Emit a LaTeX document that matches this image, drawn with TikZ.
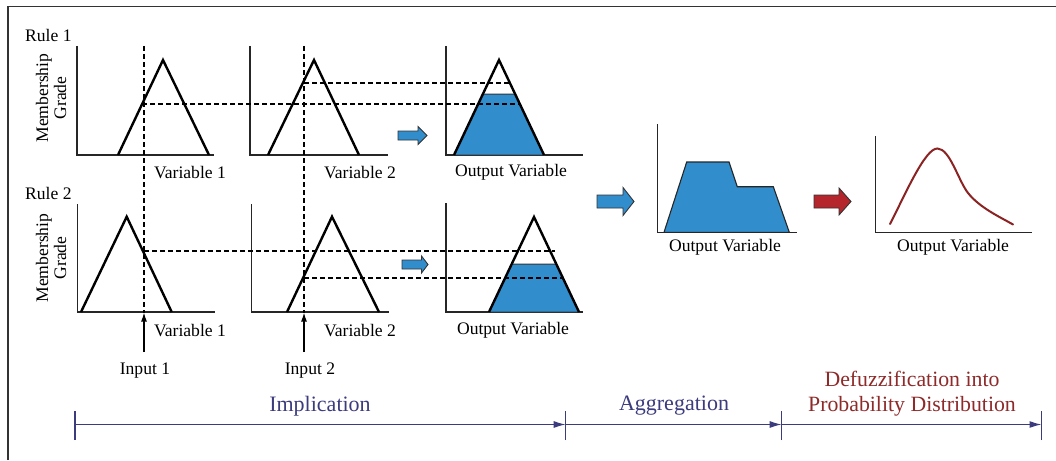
\documentclass[tikz,border=0pt]{standalone}
\usepackage{fontspec}
\setmainfont{Liberation Serif}
\usetikzlibrary{arrows.meta}
\definecolor{fuzzblue}{HTML}{318DCC}
\definecolor{navy}{HTML}{3B3B7E}
\definecolor{defuzzred}{HTML}{8E2A2A}
\definecolor{arrowred}{HTML}{B4262C}
\definecolor{curvered}{HTML}{8B2323}
% fat block arrow: x-start, x-head, x-tip, y-mid, shaft half height, head half height, fill
\newcommand\fatarrow[7]{%
  \draw[fill=#7, draw=black!80, line width=0.9pt, line join=miter]
    (#1,#4-#5) -- (#2,#4-#5) -- (#2,#4-#6) -- (#3,#4) -- (#2,#4+#6)
    -- (#2,#4+#5) -- (#1,#4+#5) -- cycle;}
\begin{document}
\begin{tikzpicture}[x=1pt,y=-1pt,
  axis/.style={line width=1.4pt, draw=black!85},
  memb/.style={line width=2.4pt, line join=miter},
  guide/.style={line width=1.1pt, dash pattern=on 5pt off 3pt},
  cut/.style={fill=fuzzblue, draw=black!80, line width=1pt},
  lbl/.style={font=\fontsize{17.6}{18}\selectfont, inner sep=0pt},
  phase/.style={font=\fontsize{22}{25}\selectfont, inner sep=0pt, text=navy},
  timeline/.style={line width=1.3pt, draw=navy},
  tick/.style={line width=1.3pt, draw=navy},
  inarrow/.style={line width=1.3pt, -{Latex[length=9pt,width=6pt]}},
]
\useasboundingbox (0,0) rectangle (1056,460);
\fill[white] (0,0) rectangle (1056,460);

% outer frame
\draw[line width=1.8pt, black!80] (8,460) -- (8,6.5) -- (1056,6.5);

% ---------------- Rule 1 ----------------
\node[lbl, anchor=west] (rule1) at (25,35) {Rule 1};
\node[lbl, rotate=90, align=center] (mg1) at (51,98) {Membership\\Grade};

% variable 1
\draw[axis] (77,46) -- (77,155) -- (214,155);
\draw[memb] (118,155) -- (163,60) -- (209,155);
\node[lbl] (v11) at (190,173) {Variable 1};
% variable 2
\draw[axis] (250,46) -- (250,155) -- (388,155);
\draw[memb] (268,155) -- (314,60) -- (359,155);
\node[lbl] (v12) at (360,173) {Variable 2};
% implied output
\draw[axis] (446,46) -- (446,155) -- (583,155);
\draw[cut] (454,155) -- (482.9,94) -- (515.1,94) -- (544,155) -- cycle;
\draw[memb] (454,155) -- (499,60) -- (544,155);
\node[lbl] (o1) at (511,172) {Output Variable};
\fatarrow{398}{418}{427}{135.5}{4.5}{9}{fuzzblue}

% ---------------- Rule 2 ----------------
\node[lbl, anchor=west] (rule2) at (25,193) {Rule 2};
\node[lbl, rotate=90, align=center] (mg2) at (51,258) {Membership\\Grade};

% variable 1
\draw[axis] (77.5,204) -- (77.5,312) -- (215,312);
\draw[memb] (81,312) -- (126.7,216.7) -- (171.7,312);
\node[lbl] (v21) at (190,331) {Variable 1};
% variable 2
\draw[axis] (251.5,204) -- (251.5,312) -- (389,312);
\draw[memb] (287,312) -- (332,216.7) -- (379,312);
\node[lbl] (v22) at (360,331) {Variable 2};
% implied output
\draw[axis] (446,203) -- (446,312) -- (583,312);
\draw[cut] (489,312) -- (511.7,264) -- (556.3,264) -- (579,312) -- cycle;
\draw[memb] (489,312) -- (534,217) -- (579,312);
\node[lbl] (o2) at (513,330) {Output Variable};
\fatarrow{402}{421.5}{428}{264.5}{4.5}{8.5}{fuzzblue}

% ---------------- crisp inputs and cut levels ----------------
\coordinate (in1) at (144,352);
\coordinate (in1top) at (144,312.5);
\coordinate (in2) at (304,352);
\coordinate (in2top) at (304,312.5);
\draw[guide] (144,46) -- (in1top);
\draw[guide] (304,46) -- (in2top);
\draw[inarrow] (in1) -- (in1top);
\draw[inarrow] (in2) -- (in2top);
\node[lbl] (input1) at (145,371) {Input 1};
\node[lbl] (input2) at (310,371) {Input 2};

\draw[guide] (142,104) -- (520,104);
\draw[guide] (304,83) -- (510,83);
\draw[guide] (144,251) -- (555,251);
\draw[guide] (304,278) -- (562,278);

% ---------------- aggregation ----------------
\fatarrow{597}{623}{634}{201.5}{6.5}{14}{fuzzblue}
\draw[axis] (657.7,124) -- (657.7,232.3) -- (796.7,232.3);
\draw[fill=fuzzblue, draw=black!85, line width=1.1pt, line join=miter]
  (664,232.3) -- (686.7,162) -- (729,162) -- (737.3,186.7)
  -- (773.3,186.7) -- (789.3,232.3) -- cycle;
\node[lbl] (oagg) at (725,247) {Output Variable};

% ---------------- defuzzification ----------------
\fatarrow{814}{839}{851}{201.5}{6.5}{13.5}{arrowred}
\draw[axis] (875.7,136) -- (875.7,232.3) -- (1031.7,232.3);
\draw[curvered, line width=2pt, line cap=round]
  (890,224) .. controls (905,195) and (925,148) .. (937.5,148.5)
  .. controls (950,149) and (958,180) .. (968,193)
  .. controls (980,208) and (1000,217) .. (1013,224.5);
\node[lbl] (odist) at (953,247) {Output Variable};

% ---------------- process timeline ----------------
\coordinate (t0) at (75,424.5);
\coordinate (t1) at (565.7,424.5);
\coordinate (t2) at (781.7,424.5);
\coordinate (t3) at (1041.5,424.5);
\foreach \t in {t0,t1,t2,t3}
  \draw[tick] ([yshift=-15.5pt]\t) -- ([yshift=14pt]\t);
\draw[timeline, -{Latex[length=12pt,width=7pt]}] (t0) -- (t1);
\draw[timeline, -{Latex[length=12pt,width=7pt]}] (t1) -- (t2);
\draw[timeline, -{Latex[length=12pt,width=7pt]}] (t2) -- (t3);
\node[phase] (impl) at (320,406) {Implication};
\node[phase] (aggr) at (674,406) {Aggregation};
\node[phase, text=defuzzred, align=center, font=\fontsize{21.8}{25}\selectfont]
  (defz) at (912,394) {Defuzzification into\\Probability Distribution};
\end{tikzpicture}
\end{document}
